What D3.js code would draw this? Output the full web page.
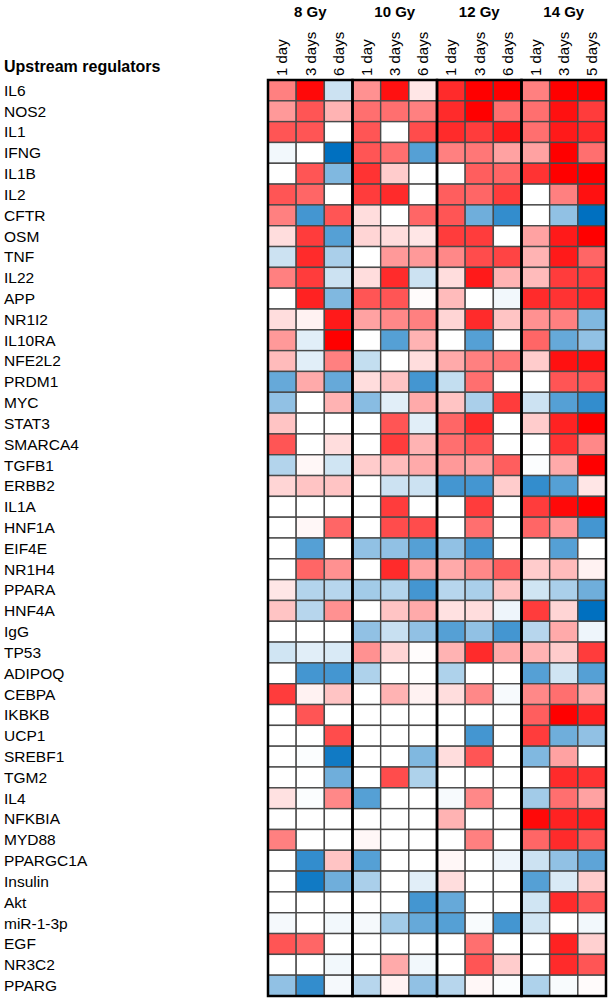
<!DOCTYPE html>
<html>
<head>
<meta charset="utf-8">
<script src="https://cdn.jsdelivr.net/npm/d3@7"></script>
<style>
  body { margin: 0; background: #fff; }
  svg { display: block; font-family: "Liberation Sans", Arial, sans-serif; }
</style>
</head>
<body>
<div id="chart"></div>
<script>
const doses = ["8 Gy", "10 Gy", "12 Gy", "14 Gy"];
const timepoints = [
  ["1 day", "3 days", "6 days"],
  ["1 day", "3 days", "6 days"],
  ["1 day", "3 days", "6 days"],
  ["1 day", "3 days", "5 days"]
];

const regulators = [
  "IL6", "NOS2", "IL1", "IFNG", "IL1B", "IL2", "CFTR", "OSM", "TNF", "IL22",
  "APP", "NR1I2", "IL10RA", "NFE2L2", "PRDM1", "MYC", "STAT3", "SMARCA4", "TGFB1", "ERBB2",
  "IL1A", "HNF1A", "EIF4E", "NR1H4", "PPARA", "HNF4A", "IgG", "TP53", "ADIPOQ", "CEBPA",
  "IKBKB", "UCP1", "SREBF1", "TGM2", "IL4", "NFKBIA", "MYD88", "PPARGC1A", "Insulin", "Akt",
  "miR-1-3p", "EGF", "NR3C2", "PPARG"
];

// activation z-scores, one row per regulator, columns in dose/time order
const zScores = [
  [1.5, 2.9, -0.6, 1.3, 2.8, 0.3, 2.5, 3.0, 3.0, 1.5, 3.0, 3.0],
  [1.2, 2.0, 0.9, 1.7, 1.7, 1.5, 2.5, 3.0, 1.7, 1.7, 2.8, 2.3],
  [2.0, 2.0, 0, 2.0, 0, 2.1, 2.5, 2.3, 2.7, 1.7, 2.7, 2.5],
  [-0.15, 0, -3.0, 2.0, 1.7, -2.0, 1.5, 1.6, 1.1, 1.1, 3.0, 1.7],
  [0, 2.0, -1.5, 2.4, 0.6, 0, 0, 1.9, 1.8, 2.4, 3.0, 3.0],
  [2.0, 1.8, 0, 2.3, 2.5, 0, 1.9, 1.8, 2.3, 0, 1.5, 2.8],
  [1.5, -2.2, 2.0, 0.4, 0, 1.8, 2.0, -1.7, -2.4, 0, -1.3, -3.0],
  [0.4, 2.3, -2.0, 0.5, 0.4, 0.3, 2.3, 2.3, 0, 1.1, 2.7, 3.0],
  [-0.6, 2.5, -1.0, 0, 1.2, 1.2, 1.4, 2.1, 2.2, 0.9, 2.7, 1.8],
  [1.5, 2.3, -0.6, 0.4, 2.5, -0.6, 0.4, 2.7, 0.9, 0.8, 2.3, 2.3],
  [0, 2.6, -1.5, 2.0, 2.0, 0.05, 0.8, 0, -0.15, 2.5, 2.4, 2.5],
  [0.4, 0.15, 2.7, 1.1, 1.4, 1.5, 0.5, 2.5, 0.7, 1.3, 1.5, -1.5],
  [1.2, -0.35, 3.0, 0, -2.0, 0.9, 0, -2.0, 0, 1.8, -1.8, -1.3],
  [0.8, -0.35, 1.5, -0.7, 0, 0.4, 1.0, 1.5, 1.6, 0.6, 2.8, 2.8],
  [-1.8, 1.0, -1.8, 0.4, 0.7, -2.2, -0.7, 1.7, 0, 0, 2.0, 2.0],
  [-1.3, 0, 0.9, -1.4, -0.35, 1.0, 0.7, -1.0, 2.3, -0.6, -2.0, -2.4],
  [0.7, 0, 0, 0, 2.0, -0.35, 1.8, 2.5, 0, 0.6, 2.6, 3.0],
  [2.0, 0, 0.4, 0, 2.3, 0.9, 1.7, 2.0, 0, 0, 2.4, 1.4],
  [-0.9, 0.1, -0.55, 0.6, 0.8, 1.0, 1.2, 1.1, 1.9, -0.05, 1.0, 3.0],
  [0.5, 0.7, 0.7, 0, -0.6, -0.6, -2.2, -2.2, 0.6, -2.4, -2.0, 0.3],
  [0, 0, 0, 0, 2.3, 0, 0, 2.3, 0, 2.3, 2.9, 3.0],
  [0, 0.1, 1.8, 0, 2.1, 2.1, 0, 1.7, 0, 1.8, 1.2, -2.2],
  [0, -2.0, 0, -1.3, -1.3, -2.0, -1.3, -2.2, 0, 0, -2.0, 0],
  [0, 1.8, 1.3, 0, 2.5, 1.1, 1.0, 1.4, 1.9, 0.6, 0.8, 0.15],
  [0.3, -0.9, -0.85, -1.1, -0.9, -2.2, -0.85, -1.0, 0.7, -0.55, -1.0, -1.7],
  [0.7, -0.85, 1.3, 0, 0.7, 1.0, 0.35, 0.4, -0.2, 2.3, 0.5, -3.0],
  [0, 0, 0, -1.3, -0.65, -1.3, -2.0, -1.3, -2.2, -0.85, 1.0, -0.2],
  [-0.55, -0.35, -0.45, 1.3, 0.5, 0.03, 0.9, 2.5, 1.0, 0.9, 0.6, 2.3],
  [0, -2.2, -2.2, -0.95, 0, 0, -0.95, 0, 0, -2.0, -0.55, -2.0],
  [2.3, 0.15, 0.7, 0, 0.9, 0.15, 0.4, 1.4, -0.1, 1.4, 1.7, 1.0],
  [0, 2.0, 0, 0, 0, 0, 0, 0, 0, 1.9, 3.0, 2.6],
  [0, 0, 2.1, 0, 0, 0, 0, -2.2, 0, 2.3, -1.7, -1.3],
  [0, -0.05, -2.8, 0, 0, -1.5, 0.4, 2.0, 0, -1.5, 1.1, 0],
  [0, 0, -1.7, 0, 2.1, -0.95, 0, 0, 0, 0, 2.5, 2.4],
  [0.35, -0.05, 1.4, -2.0, 0, 0, -0.1, 1.4, 0, -1.1, 1.7, 1.1],
  [0, 0, 0, 0, 0, 0, 0.9, 0, 0, 2.9, 2.6, 2.6],
  [1.5, 0, 0, 0.1, 0, 0, 0, 1.5, 0, 1.8, 2.5, 2.0],
  [0, -2.4, 0.7, -2.0, 0, 0, 0.1, 0, -0.2, -0.6, -1.3, -1.9],
  [0, -2.8, -1.7, -1.0, 0, -0.35, 0.4, 0, 0, -2.0, -0.45, 0.6],
  [0, 0, 0, 0, 0, -2.2, -1.8, 0, 0, -0.55, 2.5, 2.0],
  [-0.12, 0, -0.15, -0.12, -1.1, -1.8, -2.0, -0.08, -2.2, -0.55, 0, -0.15],
  [2.0, 1.8, 0, 0, 0, 0, 0, 1.7, 0, 0, 2.6, 0.55],
  [0, 0, -0.15, 0, 1.0, -0.15, 0, 2.0, 0.6, 0, 2.5, 2.0],
  [-1.3, -2.4, -0.12, -0.85, 0.15, -1.3, -0.85, 0.1, -0.05, -0.95, -0.08, 0.05]
];

const width = 612;
const height = 1000;
const gridLeft = 268, gridRight = 606, gridTop = 80, gridBottom = 996;

const columns = doses.flatMap((d, i) => timepoints[i].map((t, j) => ({ dose: d, time: t, key: i + "-" + j })));

const svg = d3.select("#chart").append("svg")
  .attr("width", width)
  .attr("height", height);

const x = d3.scaleBand()
  .domain(columns.map(c => c.key))
  .range([gridLeft, gridRight]);

const xGroup = d3.scaleBand()
  .domain(doses)
  .range([gridLeft, gridRight]);

const y = d3.scaleBand()
  .domain(regulators)
  .range([gridTop, gridBottom]);

const color = d3.scaleLinear()
  .domain([-3, 0, 3])
  .range(["#0070c0", "#ffffff", "#ff0000"])
  .clamp(true);

// cells
const cells = [];
regulators.forEach((r, ri) => {
  columns.forEach((c, ci) => cells.push({ reg: r, col: c.key, v: zScores[ri][ci] }));
});

svg.append("g")
  .selectAll("rect")
  .data(cells)
  .enter()
  .append("rect")
  .attr("x", d => x(d.col))
  .attr("y", d => y(d.reg))
  .attr("width", x.bandwidth())
  .attr("height", y.bandwidth())
  .attr("fill", d => color(d.v))
  .attr("stroke", "#4a4a4a")
  .attr("stroke-width", 1.4);

// thick group borders
svg.append("g")
  .selectAll("rect")
  .data(doses)
  .enter()
  .append("rect")
  .attr("x", d => xGroup(d))
  .attr("y", gridTop)
  .attr("width", xGroup.bandwidth())
  .attr("height", gridBottom - gridTop)
  .attr("fill", "none")
  .attr("stroke", "#000")
  .attr("stroke-width", 2.5);

// dose headers
svg.append("g")
  .selectAll("text")
  .data(doses)
  .enter()
  .append("text")
  .attr("x", d => xGroup(d) + xGroup.bandwidth() / 2)
  .attr("y", 17)
  .attr("text-anchor", "middle")
  .style("font-size", "15px")
  .style("font-weight", "bold")
  .text(d => d);

// rotated time labels
svg.append("g")
  .selectAll("text")
  .data(columns)
  .enter()
  .append("text")
  .attr("transform", d => `translate(${x(d.key) + x.bandwidth() / 2}, 76) rotate(-90)`)
  .attr("dy", "0.35em")
  .attr("text-anchor", "start")
  .style("font-size", "15px")
  .text(d => d.time);

// row labels
svg.append("text")
  .attr("x", 4)
  .attr("y", 72)
  .style("font-size", "16px")
  .style("font-weight", "bold")
  .text("Upstream regulators");

svg.append("g")
  .selectAll("text")
  .data(regulators)
  .enter()
  .append("text")
  .attr("x", 4)
  .attr("y", d => y(d) + y.bandwidth() / 2)
  .attr("dy", "0.35em")
  .style("font-size", "15.5px")
  .text(d => d);
</script>
</body>
</html>
